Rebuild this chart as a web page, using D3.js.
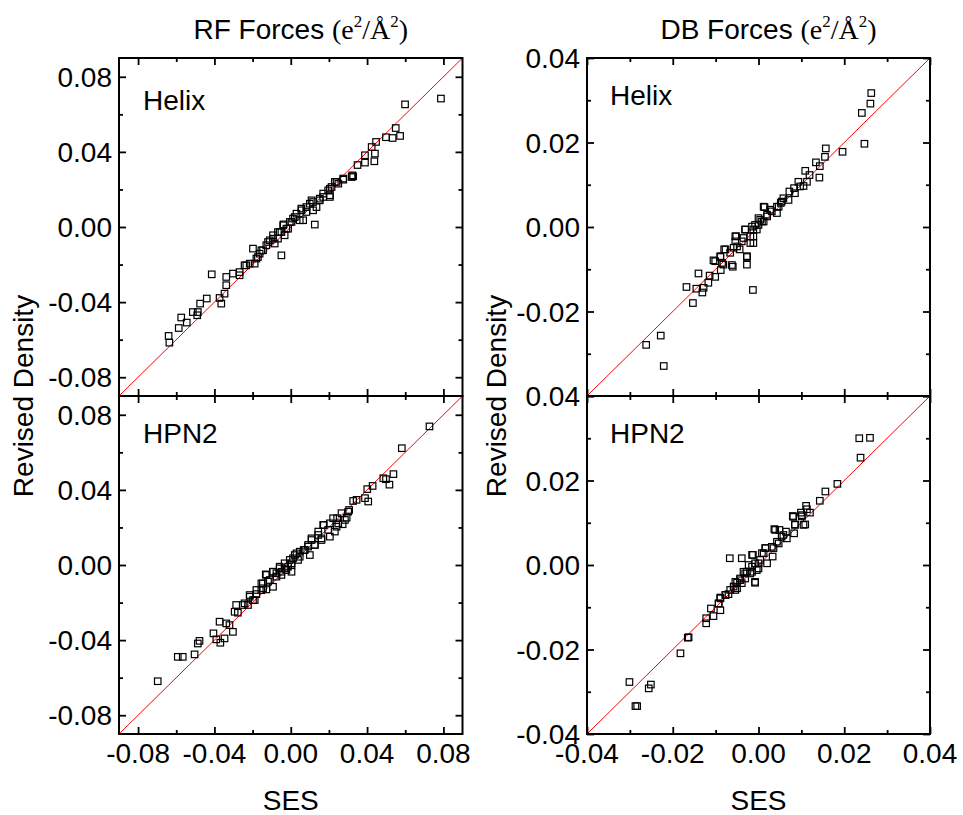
<!DOCTYPE html>
<html>
<head>
<meta charset="utf-8">
<script src="https://cdn.jsdelivr.net/npm/d3@7"></script>
<style>
  body { margin: 0; background: #fff; }
  svg text { font-family: Arial, "Liberation Sans", sans-serif; fill: #000; }
</style>
</head>
<body>
<svg id="chart" width="963" height="815"></svg>
<script>
// Data: [SES, Revised Density]
const rfHelix = [
  [0.0787,0.0684],[0.0599,0.0653],[0.0550,0.0527],[0.0573,0.0485],[0.0534,0.0474],[0.0499,0.0478],
  [0.0447,0.0453],[0.0424,0.0426],[0.0441,0.0391],[0.0438,0.0350],[0.0389,0.0382],[0.0389,0.0343],
  [0.0350,0.0330],[0.0327,0.0270],[0.0322,0.0275],[0.0275,0.0252],[0.0249,0.0231],[0.0231,0.0240],
  [0.0205,0.0204],[0.0205,0.0169],[0.0170,0.0160],[0.0152,0.0142],[0.0117,0.0133],[0.0126,0.0013],
  [0.0117,0.0089],[0.0100,0.0124],[0.0082,0.0106],[0.0056,0.0089],[0.0065,0.0036],[0.0030,0.0071],
  [0.0012,0.0045],[-0.0005,0.0027],[-0.0037,0.0014],[-0.0023,-0.0009],[-0.0049,-0.0027],[-0.0067,-0.0027],
  [-0.0049,-0.0151],[-0.0093,-0.0062],[-0.0119,-0.0080],[-0.0128,-0.0097],[-0.0198,-0.0115],[-0.0154,-0.0124],
  [-0.0172,-0.0160],[-0.0189,-0.0195],[-0.0233,-0.0204],[-0.0268,-0.0240],[-0.0268,-0.0257],[-0.0303,-0.0248],
  [-0.0338,-0.0266],[-0.0414,-0.0252],[-0.0338,-0.0310],[-0.0347,-0.0355],[-0.0373,-0.0378],[-0.0364,-0.0408],
  [-0.0440,-0.0381],[-0.0475,-0.0408],[-0.0487,-0.0453],[-0.0513,-0.0453],[-0.0490,-0.0470],[-0.0545,-0.0509],
  [-0.0574,-0.0482],[-0.0587,-0.0538],[-0.0640,-0.0580],[-0.0636,-0.0616],
  [0.0319,0.0266],[0.0275,0.0258],[0.0240,0.0240],[0.0214,0.0213],[0.0196,0.0195],[0.0170,0.0178],
  [0.0205,0.0160],[0.0152,0.0151],[0.0109,0.0142],[0.0135,0.0106],[0.0056,0.0098],[0.0082,0.0080],
  [0.0021,0.0053],[0.0047,0.0036],[0.0004,0.0027],[-0.0040,0.0009],[-0.0014,-0.0009],[-0.0058,-0.0027],
  [-0.0032,-0.0044],[-0.0093,-0.0044],[-0.0067,-0.0062],[-0.0110,-0.0071],[-0.0084,-0.0088],[-0.0145,-0.0124],
  [-0.0163,-0.0142],[-0.0180,-0.0168],[-0.0215,-0.0195],[-0.0242,-0.0204]
];

const rfHpn2 = [
  [0.0727,0.0738],[0.0582,0.0622],[0.0538,0.0484],[0.0499,0.0457],[0.0517,0.0428],[0.0485,0.0462],
  [0.0429,0.0421],[0.0401,0.0404],[0.0406,0.0338],[0.0389,0.0356],[0.0345,0.0347],[0.0327,0.0341],
  [0.0306,0.0293],[0.0293,0.0252],[0.0266,0.0276],[0.0272,0.0217],[0.0243,0.0249],[0.0240,0.0204],
  [0.0205,0.0222],[0.0205,0.0151],[0.0173,0.0213],[0.0161,0.0133],[0.0144,0.0178],[0.0126,0.0107],
  [0.0109,0.0133],[0.0091,0.0098],[0.0068,0.0080],[0.0047,0.0044],[0.0030,0.0062],[0.0012,0.0036],
  [0.0004,0.0009],[-0.0014,-0.0009],[-0.0032,-0.0018],[-0.0049,-0.0036],[0.0004,-0.0036],[-0.0058,-0.0009],
  [-0.0075,-0.0044],[-0.0093,-0.0036],[-0.0131,-0.0050],[-0.0110,-0.0080],[-0.0146,-0.0098],[-0.0093,-0.0116],
  [-0.0128,-0.0130],[-0.0154,-0.0134],[-0.0180,-0.0155],[-0.0189,-0.0187],[-0.0215,-0.0169],[-0.0224,-0.0213],
  [-0.0251,-0.0213],[-0.0286,-0.0213],[-0.0294,-0.0249],[-0.0277,-0.0254],[-0.0321,-0.0320],[-0.0338,-0.0311],
  [-0.0373,-0.0302],[-0.0303,-0.0356],[-0.0347,-0.0391],[-0.0369,-0.0414],[-0.0405,-0.0364],[-0.0390,-0.0396],
  [-0.0478,-0.0404],[-0.0487,-0.0418],[-0.0504,-0.0476],[-0.0566,-0.0489],[-0.0592,-0.0489],[-0.0697,-0.0619],
  [0.0301,0.0284],[0.0284,0.0240],[0.0249,0.0222],[0.0222,0.0249],[0.0231,0.0178],[0.0196,0.0187],
  [0.0170,0.0213],[0.0144,0.0160],[0.0161,0.0142],[0.0109,0.0142],[0.0126,0.0107],[0.0091,0.0107],
  [0.0074,0.0080],[0.0047,0.0071],[0.0100,0.0053],[0.0021,0.0053],[0.0038,0.0027],[-0.0005,0.0027],
  [0.0004,0.0000],[-0.0032,0.0009],[-0.0023,-0.0027],[-0.0058,-0.0018],[-0.0049,-0.0053],[-0.0093,-0.0036],
  [-0.0075,-0.0062],[-0.0128,-0.0053],[-0.0119,-0.0089],[-0.0154,-0.0098],[-0.0145,-0.0124],[-0.0180,-0.0133],
  [-0.0215,-0.0160],[-0.0198,-0.0187],[-0.0242,-0.0204]
];

const dbHelix = [
  [0.0263,0.0317],[0.0261,0.0292],[0.0241,0.0270],[0.0247,0.0197],[0.0196,0.0178],[0.0157,0.0186],
  [0.0155,0.0166],[0.0134,0.0153],[0.0143,0.0144],[0.0142,0.0117],[0.0109,0.0133],[0.0119,0.0123],
  [0.0105,0.0097],[0.0093,0.0107],[0.0083,0.0092],[0.0072,0.0084],[0.0058,0.0068],[0.0047,0.0048],
  [0.0052,0.0057],[0.0043,0.0033],[0.0027,0.0041],[0.0014,0.0047],[0.0020,0.0025],[0.0012,0.0013],
  [0.0004,0.0017],[0.0000,0.0005],[-0.0004,-0.0006],[-0.0015,0.0001],[-0.0012,-0.0022],[-0.0019,-0.0038],
  [-0.0031,-0.0006],[-0.0035,-0.0026],[-0.0027,-0.0071],[-0.0027,-0.0089],[-0.0013,-0.0149],[-0.0052,-0.0022],
  [-0.0054,-0.0034],[-0.0058,-0.0049],[-0.0044,-0.0053],[-0.0060,-0.0094],[-0.0080,-0.0053],[-0.0082,-0.0089],
  [-0.0089,-0.0071],[-0.0105,-0.0079],[-0.0088,-0.0102],[-0.0101,-0.0118],[-0.0114,-0.0115],[-0.0117,-0.0132],
  [-0.0140,-0.0110],[-0.0128,-0.0144],[-0.0145,-0.0146],[-0.0131,-0.0155],[-0.0168,-0.0142],[-0.0153,-0.0180],
  [-0.0228,-0.0257],[-0.0262,-0.0279],[-0.0221,-0.0329],
  [0.0113,0.0107],[0.0097,0.0096],[0.0085,0.0080],[0.0070,0.0064],[0.0054,0.0060],[0.0043,0.0048],
  [0.0012,0.0048],[0.0031,0.0037],[0.0020,0.0029],[0.0000,0.0021],[0.0008,0.0013],[-0.0008,0.0005],
  [-0.0012,-0.0006],[-0.0031,-0.0006],[-0.0019,-0.0022],[-0.0054,-0.0022],[-0.0039,-0.0034],[-0.0012,-0.0038],
  [-0.0050,-0.0046],[-0.0077,-0.0053],[-0.0066,-0.0061],[-0.0027,-0.0069],[-0.0089,-0.0069],[-0.0101,-0.0081],
  [-0.0085,-0.0085],[-0.0062,-0.0090]
];

const dbHpn2 = [
  [0.0260,0.0301],[0.0235,0.0300],[0.0238,0.0254],[0.0184,0.0192],[0.0156,0.0174],[0.0143,0.0152],
  [0.0120,0.0124],[0.0111,0.0140],[0.0113,0.0132],[0.0109,0.0096],[0.0099,0.0124],[0.0101,0.0115],
  [0.0080,0.0116],[0.0085,0.0096],[0.0083,0.0075],[0.0064,0.0079],[0.0054,0.0067],[0.0037,0.0085],
  [0.0049,0.0083],[0.0043,0.0055],[0.0031,0.0043],[0.0033,0.0020],[0.0016,0.0040],[0.0020,0.0004],
  [0.0008,0.0028],[0.0000,0.0004],[-0.0004,-0.0012],[-0.0013,0.0024],[-0.0015,-0.0004],[-0.0008,-0.0042],
  [-0.0019,-0.0020],[-0.0027,-0.0016],[-0.0035,-0.0016],[-0.0039,0.0016],[-0.0067,0.0016],[-0.0031,-0.0032],
  [-0.0043,-0.0036],[-0.0050,-0.0042],[-0.0054,-0.0059],[-0.0058,-0.0051],[-0.0070,-0.0069],[-0.0077,-0.0071],
  [-0.0089,-0.0077],[-0.0093,-0.0091],[-0.0089,-0.0107],[-0.0111,-0.0103],[-0.0105,-0.0121],[-0.0122,-0.0126],
  [-0.0122,-0.0138],[-0.0163,-0.0171],[-0.0165,-0.0172],[-0.0182,-0.0209],[-0.0251,-0.0283],[-0.0256,-0.0292],
  [-0.0301,-0.0277],[-0.0283,-0.0334],[-0.0287,-0.0334],
  [0.0101,0.0118],[0.0081,0.0114],[0.0105,0.0095],[0.0085,0.0095],[0.0058,0.0071],[0.0066,0.0063],
  [0.0039,0.0083],[0.0047,0.0051],[0.0035,0.0040],[0.0016,0.0040],[0.0012,0.0028],[-0.0015,0.0024],
  [0.0004,0.0012],[-0.0008,0.0004],[-0.0023,0.0000],[0.0000,-0.0008],[-0.0015,-0.0016],[-0.0031,-0.0020],
  [-0.0008,-0.0040],[-0.0043,-0.0032],[-0.0039,-0.0043],[-0.0054,-0.0040],[-0.0050,-0.0055],[-0.0066,-0.0059],
  [-0.0077,-0.0071],[-0.0089,-0.0079],[-0.0093,-0.0091]
];

// Axis settings
const rfDomain = [-0.09, 0.09];
const rfMajor = [-0.08, -0.04, 0.00, 0.04, 0.08];
const rfMinor = [-0.06, -0.02, 0.02, 0.06];
const dbDomain = [-0.04, 0.04];
const dbMajor = [-0.04, -0.02, 0.00, 0.02, 0.04];
const dbMinor = [-0.03, -0.01, 0.01, 0.03];

const svg = d3.select("#chart");

const cols = [
  { x0: 119, x1: 462.5, domain: rfDomain, major: rfMajor, minor: rfMinor, title: "RF Forces ", ylabX: 33 },
  { x0: 587, x1: 930, domain: dbDomain, major: dbMajor, minor: dbMinor, title: "DB Forces ", ylabX: 506 }
];
const rows = [{ y0: 58, y1: 396, name: "Helix" }, { y0: 396, y1: 734, name: "HPN2" }];
const panelData = [[rfHelix, rfHpn2], [dbHelix, dbHpn2]];

// plain hyphen for negative labels, like the original
const fmt = v => (Math.abs(v) < 1e-9 ? "0.00" : v.toFixed(2));
const majorLen = 7, minorLen = 4;

function drawPanel(col, row, ci, ri) {
  const x = d3.scaleLinear().domain(col.domain).range([col.x0, col.x1]);
  const y = d3.scaleLinear().domain(col.domain).range([row.y1, row.y0]);
  const g = svg.append("g");
  const data = panelData[ci][ri];

  // red y = x line
  g.append("line")
    .attr("x1", x(col.domain[0])).attr("y1", y(col.domain[0]))
    .attr("x2", x(col.domain[1])).attr("y2", y(col.domain[1]))
    .attr("stroke", "#ff0000").attr("stroke-width", 1);

  // markers
  const s = 6.5;
  g.selectAll("rect.pt")
    .data(data)
    .join("rect")
      .attr("class", "pt")
      .attr("x", d => x(d[0]) - s / 2)
      .attr("y", d => y(d[1]) - s / 2)
      .attr("width", s).attr("height", s)
      .attr("fill", "none")
      .attr("stroke", "#000")
      .attr("stroke-width", 1.2);

  // ticks on all four sides, pointing inward
  function ticks(axisFn, vals, len, pos, transform) {
    const a = axisFn(pos).tickValues(vals).tickSize(-len).tickFormat("");
    const ag = g.append("g").attr("transform", transform).call(a);
    ag.select(".domain").remove();
    ag.selectAll("line").attr("stroke", "#000").attr("stroke-width", 1.8);
    return ag;
  }
  ticks(d3.axisBottom, col.major, majorLen, x, `translate(0,${row.y1})`);
  ticks(d3.axisBottom, col.minor, minorLen, x, `translate(0,${row.y1})`);
  ticks(d3.axisTop, col.major, majorLen, x, `translate(0,${row.y0})`);
  ticks(d3.axisTop, col.minor, minorLen, x, `translate(0,${row.y0})`);
  ticks(d3.axisLeft, col.major, majorLen, y, `translate(${col.x0},0)`);
  ticks(d3.axisLeft, col.minor, minorLen, y, `translate(${col.x0},0)`);
  ticks(d3.axisRight, col.major, majorLen, y, `translate(${col.x1},0)`);
  ticks(d3.axisRight, col.minor, minorLen, y, `translate(${col.x1},0)`);

  // y tick labels (top-right panel leaves its bottom label to the panel below)
  let yLabs = col.major;
  if (ci === 1 && ri === 0) yLabs = col.major.filter(v => v > col.domain[0]);
  g.selectAll("text.ylab")
    .data(yLabs)
    .join("text")
      .attr("class", "ylab")
      .attr("x", col.x0 - 7)
      .attr("y", d => y(d))
      .attr("dy", "0.36em")
      .attr("text-anchor", "end")
      .style("font-size", "28px")
      .text(d => fmt(d));

  // x tick labels on the bottom panels only
  if (ri === 1) {
    g.selectAll("text.xlab")
      .data(col.major)
      .join("text")
        .attr("class", "xlab")
        .attr("x", d => x(d))
        .attr("y", row.y1 + 29)
        .attr("text-anchor", "middle")
        .style("font-size", "28px")
        .text(d => fmt(d));
  }

  // frame
  g.append("rect")
    .attr("x", col.x0).attr("y", row.y0)
    .attr("width", col.x1 - col.x0).attr("height", row.y1 - row.y0)
    .attr("fill", "none").attr("stroke", "#000").attr("stroke-width", 2);

  // panel name
  g.append("text")
    .attr("x", col.x0 + (ci === 0 ? 24 : 23))
    .attr("y", row.y0 + (ri === 0 ? (ci === 0 ? 52 : 47) : 47))
    .style("font-size", "28px")
    .text(row.name);
}

cols.forEach((col, ci) => {
  rows.forEach((row, ri) => drawPanel(col, row, ci, ri));

  const cx = (col.x0 + col.x1) / 2;

  // column title
  const t = svg.append("text")
    .attr("x", cx + 10)
    .attr("y", 39)
    .attr("text-anchor", "middle")
    .style("font-size", "28px");
  t.append("tspan").text(col.title);
  t.append("tspan").style("font-family", "'Liberation Serif', 'Times New Roman', serif").text("(e");
  t.append("tspan").style("font-family", "'Liberation Serif', serif").style("font-size", "17px").attr("dy", -12).text("2");
  t.append("tspan").style("font-family", "'Liberation Serif', serif").attr("dy", 12).text("/Å");
  t.append("tspan").style("font-family", "'Liberation Serif', serif").style("font-size", "17px").attr("dy", -12).text("2");
  t.append("tspan").style("font-family", "'Liberation Serif', serif").attr("dy", 12).text(")");

  // x axis title
  svg.append("text")
    .attr("x", cx)
    .attr("y", 810)
    .attr("text-anchor", "middle")
    .style("font-size", "28px")
    .text("SES");

  // y axis title
  svg.append("text")
    .attr("transform", `translate(${col.ylabX},396) rotate(-90)`)
    .attr("text-anchor", "middle")
    .style("font-size", "28px")
    .text("Revised Density");
});
</script>
</body>
</html>
